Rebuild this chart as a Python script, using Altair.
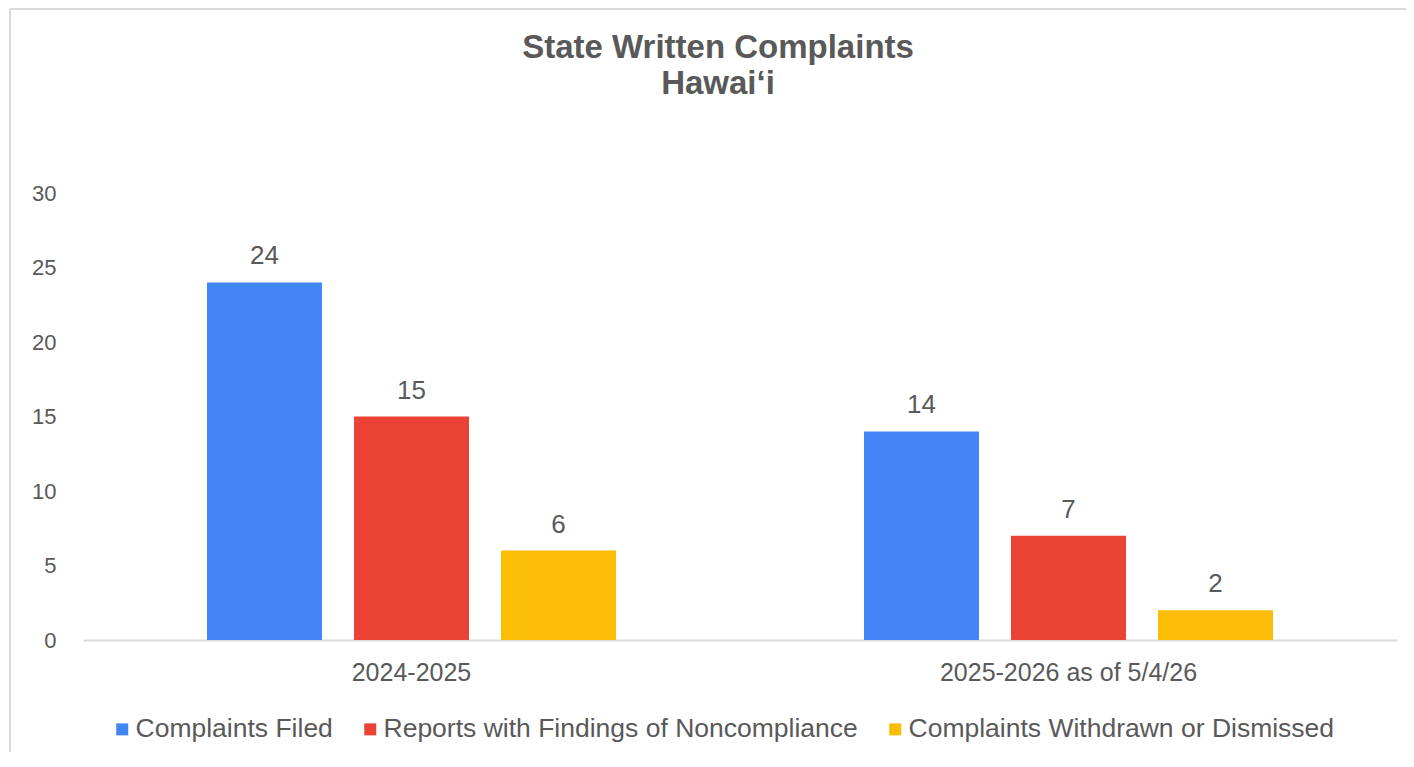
import altair as alt
import pandas as pd

years = ["2024-2025", "2025-2026 as of 5/4/26"]
series = ["Complaints Filed", "Reports with Findings of Noncompliance", "Complaints Withdrawn or Dismissed"]
filed = [24, 14]
findings = [15, 7]
withdrawn = [6, 2]
colors = ["#4285F4", "#EA4335", "#FBBC04"]
title_lines = ["State Written Complaints", "Hawai‘i"]

rows = []
for i, y in enumerate(years):
    for s, vals in zip(series, [filed, findings, withdrawn]):
        rows.append({"year": y, "series": s, "value": vals[i]})
df = pd.DataFrame(rows)
tdf = pd.DataFrame({"line": title_lines})

FONT = "Liberation Sans"
GREY = "#595959"

x = alt.X("year:N", sort=years, title=None,
          scale=alt.Scale(paddingInner=0, paddingOuter=0),
          axis=alt.Axis(labelAngle=0, labelFontSize=25, labelColor=GREY, labelFont=FONT,
                        labelPadding=20, ticks=False, domainColor="#d9d9d9", domainWidth=2,
                        labelLimit=600))
xo = alt.XOffset("series:N", sort=series,
                 scale=alt.Scale(paddingInner=0.218, paddingOuter=0.8435))
y = alt.Y("value:Q", title=None,
          scale=alt.Scale(domain=[0, 30]),
          axis=alt.Axis(values=[0, 5, 10, 15, 20, 25, 30], grid=False, domain=False, ticks=False,
                        labelFontSize=22, labelColor=GREY, labelFont=FONT, labelPadding=27))
color = alt.Color("series:N", sort=series,
                  scale=alt.Scale(domain=series, range=colors),
                  legend=alt.Legend(title=None, orient="none", legendX=26, legendY=523,
                                    direction="horizontal", columns=3, symbolType="square",
                                    symbolSize=144, symbolStrokeWidth=0, labelFontSize=26.5,
                                    labelColor=GREY, labelFont=FONT, columnPadding=24,
                                    labelOffset=0, labelLimit=700))

bars = alt.Chart(df).mark_bar().encode(x=x, xOffset=xo, y=y, color=color)
labels = alt.Chart(df).mark_text(baseline="alphabetic", dy=-18, fontSize=26, color=GREY, font=FONT).encode(
    x=x, xOffset=xo, y=y, text="value:Q")

title1 = alt.Chart(tdf.iloc[[0]]).mark_text(
    baseline="alphabetic", align="center", fontSize=33, fontWeight="bold", color=GREY, font=FONT
).encode(x=alt.value(635), y=alt.value(-135), text="line:N")
title2 = alt.Chart(tdf.iloc[[1]]).mark_text(
    baseline="alphabetic", align="center", fontSize=33, fontWeight="bold", color=GREY, font=FONT
).encode(x=alt.value(635), y=alt.value(-99), text="line:N")

border_left = alt.Chart(df).mark_rule(color="#d9d9d9", strokeWidth=2).encode(
    x=alt.value(-73), y=alt.value(-184), y2=alt.value(580))
border_top = alt.Chart(df).mark_rule(color="#d9d9d9", strokeWidth=2).encode(
    x=alt.value(-73), x2=alt.value(1340), y=alt.value(-184))

chart = alt.layer(bars, labels, title1, title2, border_left, border_top).properties(
    width=1314, height=447,
    autosize=alt.AutoSizeParams(type="none"),
    padding={"left": 75, "top": 185, "right": 9, "bottom": 112},
).configure_view(stroke=None)

chart.save("out.html", embed_options={"renderer": "svg", "actions": False})
